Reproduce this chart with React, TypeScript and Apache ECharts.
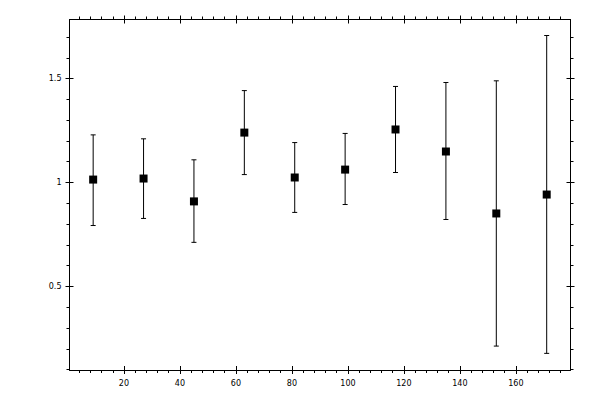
import React, { useEffect, useRef } from 'react';
import * as echarts from 'echarts';

// bin centres (x) and the mean with its error range (y)
const binCenters = [9, 27, 45, 63, 81, 99, 117, 135, 153, 171];
const means = [1.014, 1.019, 0.909, 1.24, 1.024, 1.062, 1.255, 1.149, 0.851, 0.942];
const lows = [0.793, 0.827, 0.712, 1.038, 0.856, 0.894, 1.048, 0.822, 0.213, 0.178];
const highs = [1.229, 1.21, 1.109, 1.442, 1.192, 1.236, 1.462, 1.481, 1.489, 1.707];

const xMajorTicks = [20, 40, 60, 80, 100, 120, 140, 160];
const xMinorTicks = [4, 8, 12, 16, 24, 28, 32, 36, 44, 48, 52, 56, 64, 68, 72, 76, 84, 88, 92, 96,
  104, 108, 112, 116, 124, 128, 132, 136, 144, 148, 152, 156, 164, 168, 172, 176];
const yMajorTicks = [0.5, 1, 1.5];
const yMinorTicks = [0.1, 0.2, 0.3, 0.4, 0.6, 0.7, 0.8, 0.9, 1.1, 1.2, 1.3, 1.4, 1.6, 1.7];

const X_MIN = 0.55;
const X_MAX = 179.5;
const Y_MIN = 0.098;
const Y_MAX = 1.784;

const FONT = 'DejaVu Sans';

function makeAxis(kind: 'x' | 'y', position: string, ticks: number[], inside: boolean, length: number, withLine: boolean, withLabels: boolean) {
  const isX = kind === 'x';
  return {
    type: 'value',
    position,
    min: isX ? X_MIN : Y_MIN,
    max: isX ? X_MAX : Y_MAX,
    splitLine: { show: false },
    axisLine: { show: withLine, onZero: false, lineStyle: { color: '#000', width: 1 } },
    axisTick: {
      show: true,
      inside,
      length,
      customValues: ticks,
      lineStyle: { color: '#000', width: 1 }
    },
    axisLabel: {
      show: withLabels,
      customValues: ticks,
      color: '#000',
      fontFamily: FONT,
      fontSize: 8,
      margin: isX ? 9 : 8,
      formatter: (v: number) => String(v)
    }
  };
}

export default function App() {
  const chartRef = useRef<HTMLDivElement>(null);

  useEffect(() => {
    if (!chartRef.current) return;
    const chart = echarts.init(chartRef.current, null, { renderer: 'svg' });

    const xAxes = [
      makeAxis('x', 'bottom', xMajorTicks, false, 4, true, true),
      makeAxis('x', 'bottom', xMajorTicks, true, 4, false, false),
      makeAxis('x', 'bottom', xMinorTicks, false, 3, false, false),
      makeAxis('x', 'top', xMajorTicks, false, 4, true, false),
      makeAxis('x', 'top', xMajorTicks, true, 4, false, false),
      makeAxis('x', 'top', xMinorTicks, false, 3, false, false)
    ];
    const yAxes = [
      makeAxis('y', 'left', yMajorTicks, false, 4, true, true),
      makeAxis('y', 'left', yMajorTicks, true, 4, false, false),
      makeAxis('y', 'left', yMinorTicks, false, 3, false, false),
      makeAxis('y', 'right', yMajorTicks, false, 4, true, false),
      makeAxis('y', 'right', yMajorTicks, true, 4, false, false),
      makeAxis('y', 'right', yMinorTicks, false, 3, false, false)
    ];

    const option: any = {
      animation: false,
      grid: { left: 69.5, right: 29.5, top: 19.5, bottom: 30, containLabel: false },
      xAxis: xAxes,
      yAxis: yAxes,
      series: [
        {
          type: 'custom',
          xAxisIndex: 0,
          yAxisIndex: 0,
          data: binCenters.map((x, i) => [x, lows[i], highs[i]]),
          renderItem: (params: any, api: any) => {
            const x = api.value(0);
            const lo = api.coord([x, api.value(1)]);
            const hi = api.coord([x, api.value(2)]);
            const hw = 2.5;
            const style = { stroke: '#000', lineWidth: 1 };
            return {
              type: 'group',
              children: [
                { type: 'line', shape: { x1: lo[0], y1: lo[1], x2: hi[0], y2: hi[1] }, style },
                { type: 'line', shape: { x1: hi[0] - hw, y1: hi[1], x2: hi[0] + hw, y2: hi[1] }, style },
                { type: 'line', shape: { x1: lo[0] - hw, y1: lo[1], x2: lo[0] + hw, y2: lo[1] }, style }
              ]
            };
          }
        },
        {
          type: 'scatter',
          xAxisIndex: 0,
          yAxisIndex: 0,
          symbol: 'rect',
          symbolSize: 8,
          itemStyle: { color: '#000', opacity: 1 },
          data: binCenters.map((x, i) => [x, means[i]])
        }
      ]
    };

    chart.setOption(option);
    return () => {
      chart.dispose();
    };
  }, []);

  return (
    <div
      ref={chartRef}
      style={{ position: 'absolute', left: 0, top: 0, width: '600px', height: '400px', background: '#fff' }}
    />
  );
}
